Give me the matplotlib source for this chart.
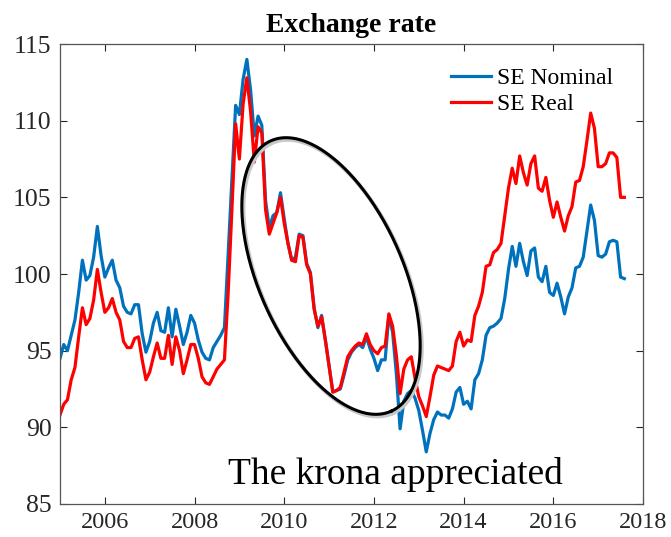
import numpy as np
import matplotlib
matplotlib.use("Agg")
import matplotlib.pyplot as plt

# monthly index values, Jan 2005 - Aug 2017
se_nominal = [
    94.5, 95.4, 95.0, 96.0, 97.0, 98.8, 100.9, 99.6, 99.9, 101.1, 103.1, 101.2,
    99.8, 100.4, 100.9, 99.6, 99.1, 97.9, 97.5, 97.4, 98.0, 98.0, 96.1, 94.9,
    95.6, 96.8, 97.5, 96.3, 96.2, 97.8, 95.9, 97.7, 96.6, 95.4, 96.2, 97.3,
    96.8, 95.7, 94.9, 94.5, 94.4, 95.2, 95.6, 96.0, 96.5, 101.3, 106.2, 111.0,
    110.4, 112.7, 114.0, 112.0, 109.0, 110.3, 109.7, 104.8, 103.0, 103.8, 104.0, 105.3,
    103.6, 102.0, 100.9, 101.1, 102.6, 102.5, 100.7, 100.1, 97.8, 96.5, 97.3, 95.7,
    94.0, 92.3, 92.4, 92.5, 93.4, 94.4, 94.9, 95.2, 95.4, 95.2, 95.9, 95.1,
    94.5, 93.7, 94.4, 94.4, 97.3, 96.2, 93.5, 89.9, 91.7, 92.2, 92.4, 91.9,
    91.1, 89.8, 88.4, 89.6, 90.5, 91.0, 90.8, 90.8, 90.6, 91.2, 92.3, 92.6,
    91.5, 91.7, 91.2, 93.1, 93.5, 94.4, 96.0, 96.5, 96.6, 96.8, 97.1, 98.4,
    100.3, 101.8, 100.5, 102.0, 100.8, 99.9, 101.5, 101.7, 99.8, 99.5, 100.5, 98.8,
    98.6, 99.4, 98.5, 97.4, 98.5, 99.1, 100.4, 100.5, 101.1, 102.8, 104.5, 103.5,
    101.2, 101.1, 101.3, 102.1, 102.2, 102.1, 99.8, 99.7,
]
se_real = [
    90.8, 91.5, 91.8, 93.1, 93.9, 95.9, 97.8, 96.7, 97.1, 98.3, 100.3, 98.8,
    97.5, 97.8, 98.4, 97.5, 97.0, 95.6, 95.2, 95.2, 95.8, 95.9, 94.4, 93.1,
    93.6, 94.6, 95.5, 94.5, 94.5, 96.0, 94.1, 95.9, 95.0, 93.5, 94.4, 95.4,
    95.4, 94.5, 93.3, 92.9, 92.8, 93.3, 93.8, 94.1, 94.4, 98.8, 104.2, 109.8,
    107.5, 111.1, 112.8, 110.6, 107.3, 109.6, 109.2, 104.2, 102.6, 103.3, 104.0, 105.0,
    103.3, 102.0, 100.9, 100.8, 102.5, 102.4, 100.6, 100.0, 97.7, 96.6, 97.2, 95.7,
    94.0, 92.3, 92.4, 92.6, 93.6, 94.6, 95.0, 95.3, 95.5, 95.4, 96.1, 95.4,
    95.0, 94.8, 95.2, 95.3, 97.4, 96.6, 94.7, 92.2, 93.8, 94.4, 94.6, 93.2,
    92.0, 91.4, 90.7, 92.0, 93.4, 94.0, 93.9, 93.8, 93.7, 94.0, 95.6, 96.2,
    95.3, 95.7, 95.6, 97.3, 97.9, 98.8, 100.5, 100.6, 101.4, 101.6, 102.0, 103.8,
    105.6, 106.9, 105.9, 107.7, 106.6, 105.8, 107.2, 107.7, 105.6, 105.4, 106.3, 104.8,
    103.7, 104.7, 103.7, 102.8, 103.8, 104.4, 106.0, 106.1, 107.0, 108.7, 110.5, 109.5,
    107.0, 107.0, 107.2, 107.9, 107.9, 107.6, 105.0, 105.0,
]
start_year = 2005
x_ticks = [2006, 2008, 2010, 2012, 2014, 2016, 2018]
y_ticks = [85, 90, 95, 100, 105, 110, 115]


def main():
    plt.rcParams['font.family'] = ['Liberation Serif', 'DejaVu Serif']

    dates = start_year + np.arange(len(se_nominal)) / 12.0

    fig = plt.figure(figsize=(6.71, 5.37), dpi=100)
    ax = fig.add_axes([0.0894, 0.0615, 0.8689, 0.8565])

    ax.plot(dates, se_nominal, color='#0072BD', lw=2.3, label='SE Nominal')
    ax.plot(dates, se_real, color='#FF0000', lw=2.3, label='SE Real')

    ax.set_xlim(2005, 2018)
    ax.set_ylim(85, 115)
    ax.set_xticks(x_ticks)
    ax.set_yticks(y_ticks)
    ax.tick_params(direction='in', top=True, right=True, length=5, width=0.8,
                   colors='#262626', pad=6)
    ax.tick_params(axis='y', labelsize=18.5)
    ax.tick_params(axis='x', labelsize=17.5)
    for sp in ax.spines.values():
        sp.set_color('#555555')
        sp.set_linewidth(0.9)

    ax.set_title('Exchange rate', fontsize=20, fontweight='bold', pad=9)

    ax.legend(loc='upper right', frameon=False, fontsize=17, handlelength=1.7,
              handletextpad=0.25, labelspacing=0.2, borderaxespad=0.5,
              bbox_to_anchor=(0.985, 0.995))

    # ellipse around the appreciation period, drawn in axes pixels
    W, H = 583.0, 460.0
    cx, cy = 331 - 60, 504 - 276
    a, b, th = 148.0, 72.0, np.deg2rad(66)
    t = np.linspace(0, 2 * np.pi, 300)
    px = cx + a * np.cos(th) * np.cos(t) - b * np.sin(th) * np.sin(t)
    py_down = a * np.sin(th) * np.cos(t) + b * np.cos(th) * np.sin(t)
    py = cy - py_down
    ax.plot((px + 1.5) / W, (py - 2) / H, color='#c8c8c8', lw=3, transform=ax.transAxes)
    ax.plot(px / W, py / H, color='black', lw=2.2, transform=ax.transAxes)

    ax.text(0.576, 0.043, 'The krona appreciated', transform=ax.transAxes,
            fontsize=27, ha='center', va='baseline')

    fig.savefig('out.png', dpi=100)


if __name__ == '__main__':
    main()
